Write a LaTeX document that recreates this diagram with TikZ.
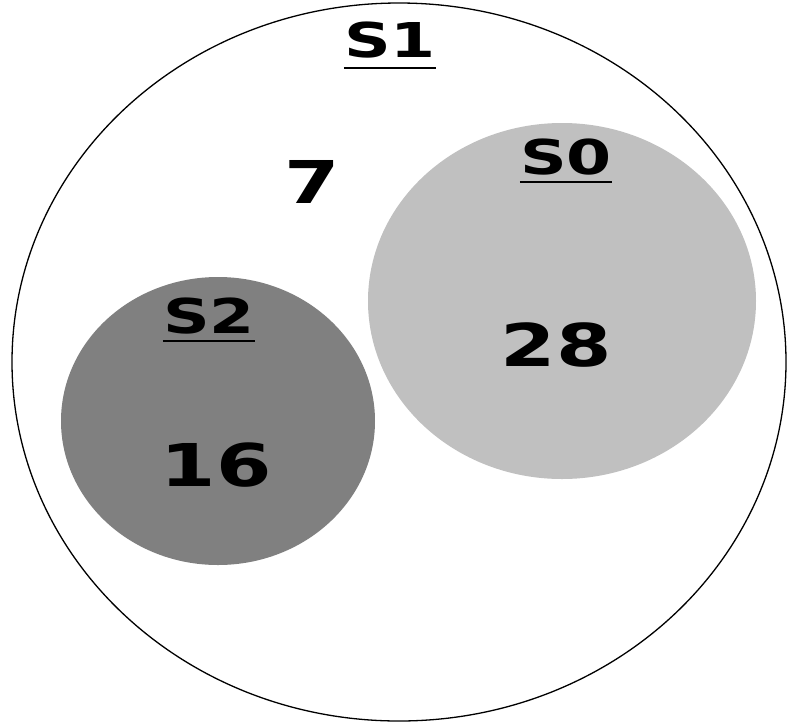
\documentclass[tikz,border=0pt]{standalone}
\usepackage{fontspec}
\setmainfont{DejaVu Sans}
\usetikzlibrary{shapes.geometric}
\definecolor{lightset}{RGB}{192,192,192}
\definecolor{darkset}{RGB}{128,128,128}
\begin{document}
\begin{tikzpicture}[x=1pt,y=1pt,
  setshape/.style={ellipse, inner sep=0pt, outer sep=0pt},
  setname/.style={font=\bfseries\fontsize{48}{48}\selectfont, inner sep=0pt},
  setcount/.style={font=\bfseries\fontsize{59}{59}\selectfont, inner sep=0pt},
  uline/.style={line width=2.2pt}]
\useasboundingbox (0,0) rectangle (788,-724);
\node[setshape, draw=black, line width=1.3pt, fill=white,
      minimum width=774pt, minimum height=718pt] (S1set) at (399,-362) {};
\node[setshape, fill=lightset, minimum width=388pt, minimum height=356pt] (S0set) at (562,-301) {};
\node[setshape, fill=darkset, minimum width=314pt, minimum height=288pt] (S2set) at (218,-421) {};
% set names
\node[setname] (s1) at (390,-40) {\scalebox{1.35}[1]{S1}};
\node[setname] (s0) at (566,-157) {\scalebox{1.35}[1]{S0}};
\node[setname] (s2) at (209,-316) {\scalebox{1.35}[1]{S2}};
\draw[uline] ([yshift=-10pt]s1.south west) -- ([yshift=-10pt]s1.south east);
\draw[uline] ([yshift=-7pt]s0.south west) -- ([yshift=-7pt]s0.south east);
\draw[uline] ([yshift=-7pt]s2.south west) -- ([yshift=-7pt]s2.south east);
% counts
\node[setcount] (c7) at (312,-182) {\scalebox{1.35}[1]{7}};
\node[setcount] (c28) at (556,-345) {\scalebox{1.35}[1]{28}};
\node[setcount] (c16) at (216,-465) {\scalebox{1.35}[1]{16}};
\end{tikzpicture}
\end{document}
